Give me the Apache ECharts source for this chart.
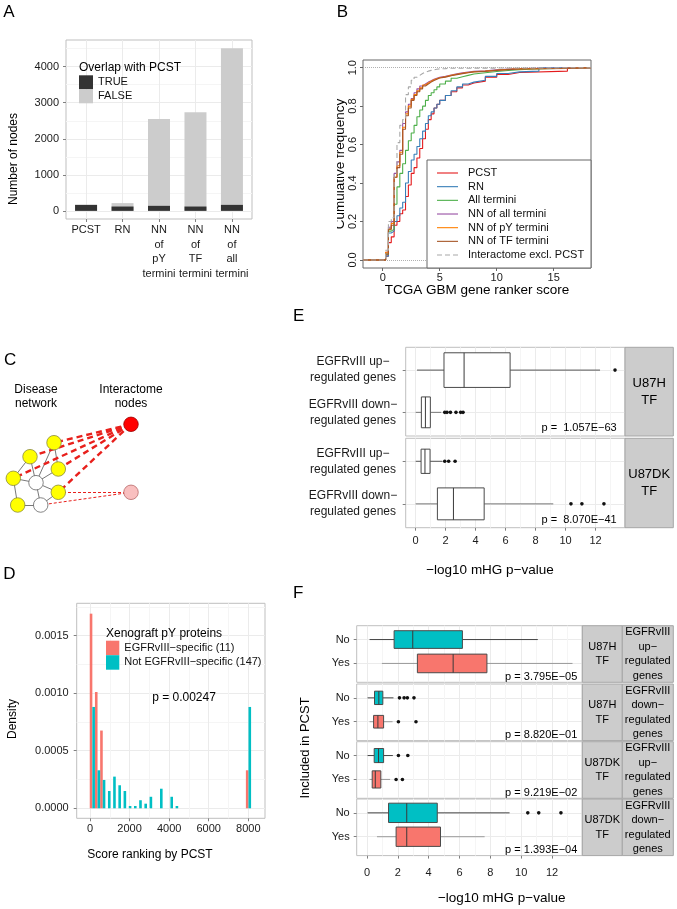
<!DOCTYPE html>
<html>
<head>
<meta charset="utf-8">
<script src="https://cdn.jsdelivr.net/npm/echarts@6.0.0/dist/echarts.min.js"></script>
<style>
html,body{margin:0;padding:0;background:#ffffff;}
#chart{width:677px;height:909px;}
</style>
</head>
<body>
<div id="chart"></div>
<script>
// ===================== DATA =====================
// Panel A
const aCategories = ['PCST', 'RN', 'NN\nof\npY\ntermini', 'NN\nof\nTF\ntermini', 'NN\nof\nall\ntermini'];
const aOverlapTrue = [166, 120, 139, 120, 166];
const aOverlapFalse = [0, 95, 2411, 2616, 4344];
const aYTicks = [0, 1000, 2000, 3000, 4000];

// Panel B (empirical CDF steps)
const bSeriesNames = ['PCST', 'RN', 'All termini', 'NN of all termini', 'NN of pY termini', 'NN of TF termini', 'Interactome excl. PCST'];
const bScores = [0.25, 0.5, 0.75, 1.0, 1.25, 1.5, 1.75, 2.0, 2.25, 2.5, 2.75, 3.0, 3.25, 3.5, 3.75, 4.0, 4.25, 4.5, 4.75, 5.0, 5.5, 6.0, 6.5, 7.0, 7.5, 8.0, 9.0, 10.0, 11.0, 12.0];
const bPCST = [0.02, 0.09, 0.12, 0.18, 0.20, 0.24, 0.26, 0.33, 0.39, 0.45, 0.48, 0.53, 0.58, 0.63, 0.68, 0.73, 0.76, 0.79, 0.81, 0.83, 0.855, 0.875, 0.895, 0.91, 0.92, 0.93, 0.95, 0.965, 0.975, 0.982];
const bRN = [0.02, 0.14, 0.15, 0.20, 0.23, 0.27, 0.30, 0.40, 0.46, 0.52, 0.55, 0.59, 0.63, 0.67, 0.71, 0.75, 0.77, 0.79, 0.81, 0.83, 0.855, 0.88, 0.90, 0.915, 0.925, 0.935, 0.955, 0.97, 0.978, 0.982];
const bAllTermini = [0.03, 0.15, 0.16, 0.29, 0.38, 0.45, 0.50, 0.57, 0.62, 0.66, 0.70, 0.745, 0.78, 0.80, 0.83, 0.855, 0.87, 0.885, 0.90, 0.915, 0.93, 0.945, 0.953, 0.96, 0.967, 0.974, 0.98, 0.985, 0.99, 0.993];
const bNNAll = [0.04, 0.17, 0.20, 0.45, 0.51, 0.57, 0.71, 0.77, 0.81, 0.84, 0.87, 0.89, 0.905, 0.915, 0.925, 0.932, 0.94, 0.945, 0.95, 0.955, 0.962, 0.968, 0.973, 0.977, 0.981, 0.984, 0.989, 0.993, 0.996, 0.998];
const bNNpY = [0.04, 0.16, 0.19, 0.43, 0.49, 0.56, 0.69, 0.76, 0.80, 0.835, 0.86, 0.88, 0.895, 0.91, 0.92, 0.93, 0.937, 0.943, 0.948, 0.953, 0.96, 0.966, 0.971, 0.975, 0.979, 0.982, 0.987, 0.991, 0.994, 0.997];
const bNNTF = [0.03, 0.16, 0.18, 0.43, 0.48, 0.55, 0.68, 0.75, 0.79, 0.83, 0.855, 0.875, 0.89, 0.905, 0.915, 0.925, 0.933, 0.94, 0.946, 0.951, 0.958, 0.964, 0.969, 0.974, 0.978, 0.981, 0.986, 0.99, 0.993, 0.996];
const bInteractome = [0.05, 0.20, 0.22, 0.45, 0.61, 0.70, 0.73, 0.86, 0.90, 0.935, 0.95, 0.96, 0.97, 0.977, 0.982, 0.986, 0.989, 0.992, 0.994, 0.995, 0.997, 1, 1, 1, 1, 1, 1, 1, 1, 1];
const bLastScore = [16.2, 13.7, 13.3, 15.7, 15.7, 16.2, 6.0];
const bXTicks = [0, 5, 10, 15];
const bYTicks = [0, 0.2, 0.4, 0.6, 0.8, 1.0];

// Panel C (schematic: node layout and links)
const cNodes = [[131, 24.3], [131, 92.3], [54, 42.7], [30, 56.7], [58.3, 69], [13.3, 78.3], [58.3, 92.3], [17.7, 105], [36, 82.7], [40.7, 105]];
const cInteractomeNode = [0];
const cWeakNode = [1];
const cDiseaseNodes = [2, 3, 4, 5, 6, 7];
const cSteinerNodes = [8, 9];
const cNetworkEdges = [[2, 8], [3, 5], [3, 8], [4, 8], [2, 4], [5, 7], [8, 6], [8, 9], [6, 9], [7, 9], [5, 8]];
const cStrongEdges = [[0, 2], [0, 3], [0, 4], [0, 5], [0, 6]];
const cWeakEdges = [[1, 6], [1, 9]];

// Panel D (histogram densities per bin)
const dBinStart = -13;
const dBinWidth = 263;
const dSpecific = [0.00169, 0.00101, 0.000675, 0, 0, 0, 0, 0, 0, 0, 0, 0, 0, 0, 0, 0, 0, 0, 0, 0, 0, 0, 0, 0, 0, 0, 0, 0, 0, 0, 0.00033];
const dNotSpecific = [0.00088, 0.00033, 0.000246, 0.00015, 0.000275, 0.0002, 0.00015, 0.00002, 0.00002, 0.00007, 0.00004, 0.0001, 0, 0.00017, 0, 0.0001, 0.00002, 0, 0, 0, 0, 0, 0, 0, 0, 0, 0, 0, 0, 0, 0.00088];
const dXTicks = [0, 2000, 4000, 6000, 8000];
const dYTicks = [0, 0.0005, 0.0010, 0.0015];

// Panel E (boxplots: low whisker, Q1, median, Q3, high whisker)
const eRows = ['EGFRvIII up\u2212\nregulated genes', 'EGFRvIII down\u2212\nregulated genes'];
const eStrips = ['U87H\nTF', 'U87DK\nTF'];
const eBoxes = [
  [[0.09, 1.89, 3.23, 6.3, 12.3], [0.0, 0.38, 0.65, 0.98, 1.71]],
  [[0.0, 0.36, 0.62, 0.96, 1.78], [0.0, 1.45, 2.52, 4.57, 9.18]]
];
const eBoxWidths = [[0.82, 0.73], [0.57, 0.75]];
const eOutliers = [[[13.3], [1.94, 2.09, 2.32, 2.69, 3.0, 3.16]], [[1.94, 2.2, 2.63], [10.36, 11.09, 12.56]]];
const ePValues = ['p =  1.057E\u221263', 'p =  8.070E\u221241'];

// Panel F
const fRows = ['No', 'Yes'];
const fStripTF = ['U87H\nTF', 'U87H\nTF', 'U87DK\nTF', 'U87DK\nTF'];
const fStripGenes = ['EGFRvIII\nup\u2212\nregulated\ngenes', 'EGFRvIII\ndown\u2212\nregulated\ngenes', 'EGFRvIII\nup\u2212\nregulated\ngenes', 'EGFRvIII\ndown\u2212\nregulated\ngenes'];
const fBoxes = [
  [[0.17, 1.76, 2.97, 6.19, 11.08], [0.97, 3.27, 5.59, 7.78, 13.33]],
  [[0.04, 0.49, 0.77, 1.03, 1.72], [0.17, 0.43, 0.71, 1.08, 1.66]],
  [[0.04, 0.47, 0.75, 1.08, 1.68], [0.17, 0.34, 0.54, 0.9, 1.5]],
  [[0.04, 1.4, 2.58, 4.56, 9.25], [0.65, 1.89, 2.58, 4.77, 7.63]]
];
const fBoxWidths = [[0.74, 0.78], [0.56, 0.53], [0.59, 0.72], [0.81, 0.81]];
const fOutliers = [[[], []], [[2.11, 2.41, 2.62, 3.05], [2.04, 3.18]], [[2.04, 2.65], [1.89, 2.3]], [[10.43, 11.14, 12.58], []]];
const fPValues = ['p = 3.795E\u221205', 'p = 8.820E\u221201', 'p = 9.219E\u221202', 'p = 1.393E\u221204'];
const efXTicks = [0, 2, 4, 6, 8, 10, 12];
const efXMinor = [1, 3, 5, 7, 9, 11, 13];

// ===================== LAYOUT / STYLE =====================
const FONT = '"Liberation Sans", Arial, Helvetica, sans-serif';
const PANEL_BORDER = '#BFBFBF';
const GRID_MAJOR = '#EBEBEB';
const GRID_MINOR = '#F5F5F5';
const TEAL = '#00BFC4', SALMON = '#F8766D';

const gridsSpec = [
  {left: 66, top: 40, width: 186, height: 179, border: PANEL_BORDER},      // 0 A
  {left: 363, top: 60, width: 228, height: 208, border: '#666666'},        // 1 B
  {left: 0, top: 400, width: 160, height: 120, border: null},             // 2 C
  {left: 76.7, top: 603.3, width: 188.3, height: 215, border: PANEL_BORDER},// 3 D
  {left: 405.7, top: 347.3, width: 219.3, height: 88.7, border: PANEL_BORDER}, // 4 E1
  {left: 405.7, top: 438.3, width: 219.3, height: 89.4, border: PANEL_BORDER}, // 5 E2
  {left: 356.7, top: 625.7, width: 225.6, height: 56.6, border: PANEL_BORDER}, // 6 F1
  {left: 356.7, top: 684.0, width: 225.6, height: 56.6, border: PANEL_BORDER}, // 7 F2
  {left: 356.7, top: 741.7, width: 225.6, height: 56.6, border: PANEL_BORDER}, // 8 F3
  {left: 356.7, top: 799.0, width: 225.6, height: 56.6, border: PANEL_BORDER}  // 9 F4
];

const grids = gridsSpec.map(g => ({
  left: g.left, top: g.top, width: g.width, height: g.height,
  show: !!g.border, borderColor: g.border || 'transparent', borderWidth: 1,
  backgroundColor: g.border ? '#ffffff' : 'transparent',
  containLabel: false, outerBoundsMode: 'none'
}));

function plainNum(v) { return String(v); }

function ggAxis(gi, min, max, ticks, o) {
  o = o || {};
  const ax = {
    type: 'value', gridIndex: gi, min: min, max: max,
    inverse: !!o.inverse,
    axisLine: {show: false, onZero: false},
    axisTick: {show: !!o.ticks, customValues: ticks, length: o.tickLen || 3, lineStyle: {color: o.tickColor || '#808080', width: 1}},
    axisLabel: {show: !!o.labels, customValues: ticks, margin: (o.margin != null ? o.margin : 6), fontSize: o.fontSize || 11,
      color: '#1a1a1a', fontFamily: FONT, hideOverlap: false, formatter: o.formatter || plainNum},
    splitLine: {show: o.split !== false, lineStyle: {color: o.splitColor || GRID_MAJOR, width: 1}},
    splitArea: {show: false},
    minorTick: {show: false},
    minorSplitLine: {show: false}
  };
  if (o.lineHeight) ax.axisLabel.lineHeight = o.lineHeight;
  if (o.align) ax.axisLabel.align = o.align;
  if (o.rotate) ax.axisLabel.rotate = o.rotate;
  if (o.position) ax.position = o.position;
  return ax;
}

const xAxes = [], yAxes = [];
function addX(a) { xAxes.push(a); return xAxes.length - 1; }
function addY(a) { yAxes.push(a); return yAxes.length - 1; }

// A axes
const xA = addX(ggAxis(0, 0.45, 5.55, [1, 2, 3, 4, 5], {ticks: true, labels: true, margin: 4, lineHeight: 14.5,
  formatter: v => aCategories[Math.round(v) - 1]}));
const yA = addY(ggAxis(0, -226, 4741, aYTicks, {ticks: true, labels: true, margin: 7}));
addY(ggAxis(0, -226, 4741, [500, 1500, 2500, 3500, 4500], {splitColor: GRID_MINOR}));

// B axes
const B_XMIN = -1.73, B_XMAX = 18.27;
const xB = addX(ggAxis(1, B_XMIN, B_XMAX, bXTicks, {ticks: true, labels: true, split: false, margin: 4, tickColor: '#666'}));
const yB = addY(ggAxis(1, -0.042, 1.04, bYTicks, {ticks: true, labels: true, split: false, margin: 5, rotate: 90, tickColor: '#666',
  formatter: v => v.toFixed(1)}));

// C axes (hidden layout space)
const xC = addX({type: 'value', gridIndex: 2, min: 0, max: 160, show: false, axisLine: {onZero: false}});
const yC = addY({type: 'value', gridIndex: 2, min: 0, max: 120, inverse: true, show: false, axisLine: {onZero: false}});

// D axes
const xD = addX(ggAxis(3, -672, 8843, dXTicks, {ticks: true, labels: true, margin: 5.5}));
addX(ggAxis(3, -672, 8843, [1000, 3000, 5000, 7000], {splitColor: GRID_MINOR}));
const yD = addY(ggAxis(3, -0.0000869, 0.00178, dYTicks, {ticks: true, labels: true, margin: 8, formatter: v => v.toFixed(4)}));
addY(ggAxis(3, -0.0000869, 0.00178, [0.00025, 0.00075, 0.00125, 0.00175], {splitColor: GRID_MINOR}));

// E axes
const eX = [], eY = [];
for (let i = 0; i < 2; i++) {
  const gi = 4 + i, bottom = i === 1;
  eX.push(addX(ggAxis(gi, -0.665, 13.965, efXTicks, {ticks: bottom, labels: bottom, margin: 7.5})));
  addX(ggAxis(gi, -0.665, 13.965, efXMinor, {splitColor: GRID_MINOR, position: 'top'}));
  eY.push(addY(ggAxis(gi, 0.46, 2.56, [1, 2], {inverse: true, ticks: true, labels: true, margin: 52.7, align: 'center',
    fontSize: 12, lineHeight: 16, formatter: v => eRows[Math.round(v) - 1]})));
}
// F axes
const fX = [], fY = [];
for (let i = 0; i < 4; i++) {
  const gi = 6 + i, bottom = i === 3;
  fX.push(addX(ggAxis(gi, -0.665, 13.965, efXTicks, {ticks: bottom, labels: bottom, margin: 12})));
  addX(ggAxis(gi, -0.665, 13.965, efXMinor, {splitColor: GRID_MINOR, position: 'top'}));
  fY.push(addY(ggAxis(gi, 0.42, 2.79, [1, 2], {inverse: true, ticks: true, labels: true, margin: 7,
    formatter: v => fRows[Math.round(v) - 1]})));
}

// ===================== SERIES =====================
const series = [];

// A: stacked bars (total drawn first, TRUE part overlaid at the same position)
const aTotals = aOverlapTrue.map((v, i) => v + aOverlapFalse[i]);
series.push({type: 'bar', name: 'FALSE', xAxisIndex: xA, yAxisIndex: yA, barWidth: 22, barGap: '-100%', z: 2,
  itemStyle: {color: '#CCCCCC'}, data: aTotals.map((v, i) => [i + 1, v]), silent: true});
series.push({type: 'bar', name: 'TRUE', xAxisIndex: xA, yAxisIndex: yA, barWidth: 22, barGap: '-100%', z: 3,
  itemStyle: {color: '#333333'}, data: aOverlapTrue.map((v, i) => [i + 1, v]), silent: true});

// B: ECDF step lines
const bColors = ['#E41A1C', '#377EB8', '#4DAF4A', '#984EA3', '#FF7F00', '#A65628', '#A8A8A8'];
const bValues = [bPCST, bRN, bAllTermini, bNNAll, bNNpY, bNNTF, bInteractome];
bSeriesNames.forEach((name, i) => {
  const pts = [[B_XMIN, 0]];
  bScores.forEach((x, j) => { if (x < bLastScore[i]) pts.push([x, bValues[i][j]]); });
  pts.push([bLastScore[i], 1]);
  pts.push([B_XMAX, 1]);
  const s = {type: 'line', name: name, xAxisIndex: xB, yAxisIndex: yB, data: pts, step: 'end',
    symbol: 'none', showSymbol: false, silent: true, z: 3 + i,
    lineStyle: {color: bColors[i], width: 1.1, type: i === 6 ? [5, 3] : 'solid'},
    itemStyle: {color: bColors[i]}};
  if (i === 0) {
    s.markLine = {silent: true, symbol: ['none', 'none'], label: {show: false}, z: 1,
      lineStyle: {type: 'dotted', color: '#B0B0B0', width: 1}, data: [{yAxis: 0}, {yAxis: 1}]};
  }
  series.push(s);
});

// C: schematic network
function edgeData(list) { return list.map(e => ({coords: [cNodes[e[0]], cNodes[e[1]]]})); }
series.push({type: 'lines', coordinateSystem: 'cartesian2d', xAxisIndex: xC, yAxisIndex: yC, silent: true, z: 2,
  lineStyle: {color: '#555555', width: 0.8, opacity: 1}, data: edgeData(cNetworkEdges)});
series.push({type: 'lines', coordinateSystem: 'cartesian2d', xAxisIndex: xC, yAxisIndex: yC, silent: true, z: 2,
  lineStyle: {color: '#E8201C', width: 2.4, type: [6, 4], opacity: 1}, data: edgeData(cStrongEdges)});
series.push({type: 'lines', coordinateSystem: 'cartesian2d', xAxisIndex: xC, yAxisIndex: yC, silent: true, z: 2,
  lineStyle: {color: '#E8201C', width: 1, type: [3, 2], opacity: 1}, data: edgeData(cWeakEdges)});
function nodeSeries(idx, fill, stroke) {
  return {type: 'scatter', xAxisIndex: xC, yAxisIndex: yC, silent: true, z: 4, symbolSize: 14.5,
    itemStyle: {color: fill, borderColor: stroke, borderWidth: 0.8, opacity: 1}, data: idx.map(k => cNodes[k])};
}
series.push(nodeSeries(cInteractomeNode, '#FF0000', '#9A0000'));
series.push(nodeSeries(cWeakNode, '#F9BFBF', '#B86A6A'));
series.push(nodeSeries(cDiseaseNodes, '#FFFF00', '#8A8A40'));
series.push(nodeSeries(cSteinerNodes, '#FFFFFF', '#666666'));

// D: dodged histogram (custom series using axis scales)
function histSeries(name, values, color, half) {
  return {type: 'custom', name: name, xAxisIndex: xD, yAxisIndex: yD, silent: true,
    itemStyle: {color: color},
    data: values.map((v, k) => [k, v]).filter(d => d[1] > 0),
    encode: {x: 0, y: 1},
    renderItem: function (params, api) {
      const k = api.value(0), v = api.value(1);
      const x0 = dBinStart + k * dBinWidth + half * dBinWidth / 2;
      const x1 = x0 + dBinWidth / 2;
      const p0 = api.coord([x0, v]), p1 = api.coord([x1, 0]);
      return {type: 'rect', shape: {x: p0[0], y: p0[1], width: p1[0] - p0[0], height: p1[1] - p0[1]},
        style: {fill: color}};
    }};
}
series.push(histSeries('EGFRvIII\u2212specific (11)', dSpecific, SALMON, 0));
series.push(histSeries('Not EGFRvIII\u2212specific (147)', dNotSpecific, TEAL, 1));

// E / F: boxplots via custom series + outlier points
function boxSeries(xi, yi, boxes, widths, fills, whiskerColors) {
  return {type: 'custom', xAxisIndex: xi, yAxisIndex: yi, silent: true, z: 3,
    data: boxes.map((b, r) => [r + 1, b[0], b[1], b[2], b[3], b[4], widths[r]]),
    encode: {x: [1, 5], y: 0},
    renderItem: function (params, api) {
      const row = api.value(0);
      const pLo = api.coord([api.value(1), row]);
      const pQ1 = api.coord([api.value(2), row]);
      const pMd = api.coord([api.value(3), row]);
      const pQ3 = api.coord([api.value(4), row]);
      const pHi = api.coord([api.value(5), row]);
      const h = Math.abs(api.size([0, api.value(6)])[1]);
      const y = pQ1[1];
      const wc = whiskerColors[row - 1];
      return {type: 'group', children: [
        {type: 'line', shape: {x1: pLo[0], y1: y, x2: pQ1[0], y2: y}, style: {stroke: wc, lineWidth: 1}},
        {type: 'line', shape: {x1: pQ3[0], y1: y, x2: pHi[0], y2: y}, style: {stroke: wc, lineWidth: 1}},
        {type: 'rect', shape: {x: pQ1[0], y: y - h / 2, width: pQ3[0] - pQ1[0], height: h},
          style: {fill: fills[row - 1], stroke: '#4A4A4A', lineWidth: 1}},
        {type: 'line', shape: {x1: pMd[0], y1: y - h / 2, x2: pMd[0], y2: y + h / 2}, style: {stroke: '#3A3A3A', lineWidth: 1}}
      ]};
    }};
}
function outlierSeries(xi, yi, outs) {
  const data = [];
  outs.forEach((list, r) => list.forEach(x => data.push([x, r + 1])));
  return {type: 'scatter', xAxisIndex: xi, yAxisIndex: yi, silent: true, z: 4, symbolSize: 3.6,
    itemStyle: {color: '#111111', opacity: 1}, data: data};
}
for (let i = 0; i < 2; i++) {
  series.push(boxSeries(eX[i], eY[i], eBoxes[i], eBoxWidths[i], ['#FFFFFF', '#FFFFFF'], ['#555555', '#777777']));
  series.push(outlierSeries(eX[i], eY[i], eOutliers[i]));
}
for (let i = 0; i < 4; i++) {
  series.push(boxSeries(fX[i], fY[i], fBoxes[i], fBoxWidths[i], [TEAL, SALMON], ['#444444', '#999999']));
  series.push(outlierSeries(fX[i], fY[i], fOutliers[i]));
}

// ===================== TEXT / DECORATION =====================
const G = [];
function txt(text, x, y, size, o) {
  o = o || {};
  const st = {text: text, x: 0, y: 0, fill: o.color || '#000000',
    font: 'normal ' + size + 'px ' + FONT,
    align: o.align || 'center', verticalAlign: o.va || 'middle',
    textAlign: o.align || 'center', textVerticalAlign: o.va || 'middle'};
  if (o.lh) st.lineHeight = o.lh;
  G.push({type: 'text', x: x, y: y, rotation: o.rot || 0, z: 100, silent: true, style: st});
}
function rect(x, y, w, h, fill, stroke, z) {
  G.push({type: 'rect', z: z || 99, silent: true, shape: {x: x, y: y, width: w, height: h},
    style: {fill: fill, stroke: stroke || null, lineWidth: stroke ? 1 : 0}});
}

// panel letters
txt('A', 3.3, 12.5, 17, {align: 'left'});
txt('B', 336.7, 12.5, 17, {align: 'left'});
txt('C', 4, 360, 17, {align: 'left'});
txt('D', 3.3, 574, 17, {align: 'left'});
txt('E', 293, 316.5, 17, {align: 'left'});
txt('F', 293, 593.5, 17, {align: 'left'});

// A titles / legend title
txt('Number of nodes', 13.3, 159, 12, {rot: Math.PI / 2});
txt('Overlap with PCST', 79, 67.7, 12, {align: 'left'});

// B titles + legend
txt('Cumulative frequency', 340.5, 164, 13.5, {rot: Math.PI / 2});
rect(329, 95, 8, 140, '#FFFFFF', null, 101);
txt('TCGA GBM gene ranker score', 477, 290, 13.5);
rect(427, 160, 164, 108, '#FFFFFF', '#666666');
bSeriesNames.forEach((n, i) => {
  const y = 173 + i * 13.67;
  G.push({type: 'line', z: 100, silent: true, shape: {x1: 437, y1: y, x2: 458, y2: y},
    style: {stroke: bColors[i], lineWidth: 1.1, lineDash: i === 6 ? [5, 3] : null}});
  txt(n, 468, y, 11, {align: 'left', color: '#111'});
});

// C texts
txt('Disease\nnetwork', 36, 396.5, 12, {lh: 14.4});
txt('Interactome\nnodes', 131, 396.5, 12, {lh: 14.4});

// D titles
txt('Density', 13, 719, 12, {rot: Math.PI / 2});
txt('Score ranking by PCST', 150, 855, 12);
txt('Xenograft pY proteins', 106, 634, 12, {align: 'left'});
txt('p = 0.00247', 184, 698, 12);

// E strips & p-values
for (let i = 0; i < 2; i++) {
  const g = gridsSpec[4 + i];
  rect(625, g.top, 48.3, g.height, '#CCCCCC', '#A6A6A6');
  txt(eStrips[i], 649.2, g.top + g.height / 2, 13, {lh: 16.7});
  txt(ePValues[i], 616.7, g.top + g.height - 7.7, 11, {align: 'right'});
}
txt('\u2212log10 mHG p\u2212value', 490, 570, 13.5);

// F strips & p-values
for (let i = 0; i < 4; i++) {
  const g = gridsSpec[6 + i];
  rect(582.3, g.top, 40, g.height, '#CCCCCC', '#A6A6A6');
  rect(622.3, g.top, 51, g.height, '#CCCCCC', '#A6A6A6');
  txt(fStripTF[i], 602.3, g.top + g.height / 2, 11, {lh: 14.4});
  txt(fStripGenes[i], 647.8, g.top + g.height / 2, 11, {lh: 14.4});
  txt(fPValues[i], 577.3, g.top + g.height - 5.3, 11, {align: 'right'});
}
txt('\u2212log10 mHG p\u2212value', 501.7, 898.3, 13.5);
txt('Included in PCST', 305, 748, 13, {rot: Math.PI / 2});

// ===================== OPTION =====================
const option = {
  animation: false,
  backgroundColor: '#ffffff',
  textStyle: {fontFamily: FONT},
  grid: grids,
  xAxis: xAxes,
  yAxis: yAxes,
  legend: [
    {orient: 'vertical', left: 79, top: 75.3, itemWidth: 14, itemHeight: 14, itemGap: 0, padding: 0,
      icon: 'rect', selectedMode: false, textStyle: {fontSize: 11, color: '#111', fontFamily: FONT},
      data: ['TRUE', 'FALSE']},
    {orient: 'vertical', left: 106, top: 640.7, itemWidth: 13.3, itemHeight: 14.5, itemGap: 0, padding: 0,
      icon: 'rect', selectedMode: false, textStyle: {fontSize: 11, color: '#111', fontFamily: FONT},
      data: ['EGFRvIII\u2212specific (11)', 'Not EGFRvIII\u2212specific (147)']}
  ],
  tooltip: {show: false},
  series: series,
  graphic: G
};

const chart = echarts.init(document.getElementById('chart'), null, {renderer: 'canvas'});
chart.setOption(option);
</script>
</body>
</html>
